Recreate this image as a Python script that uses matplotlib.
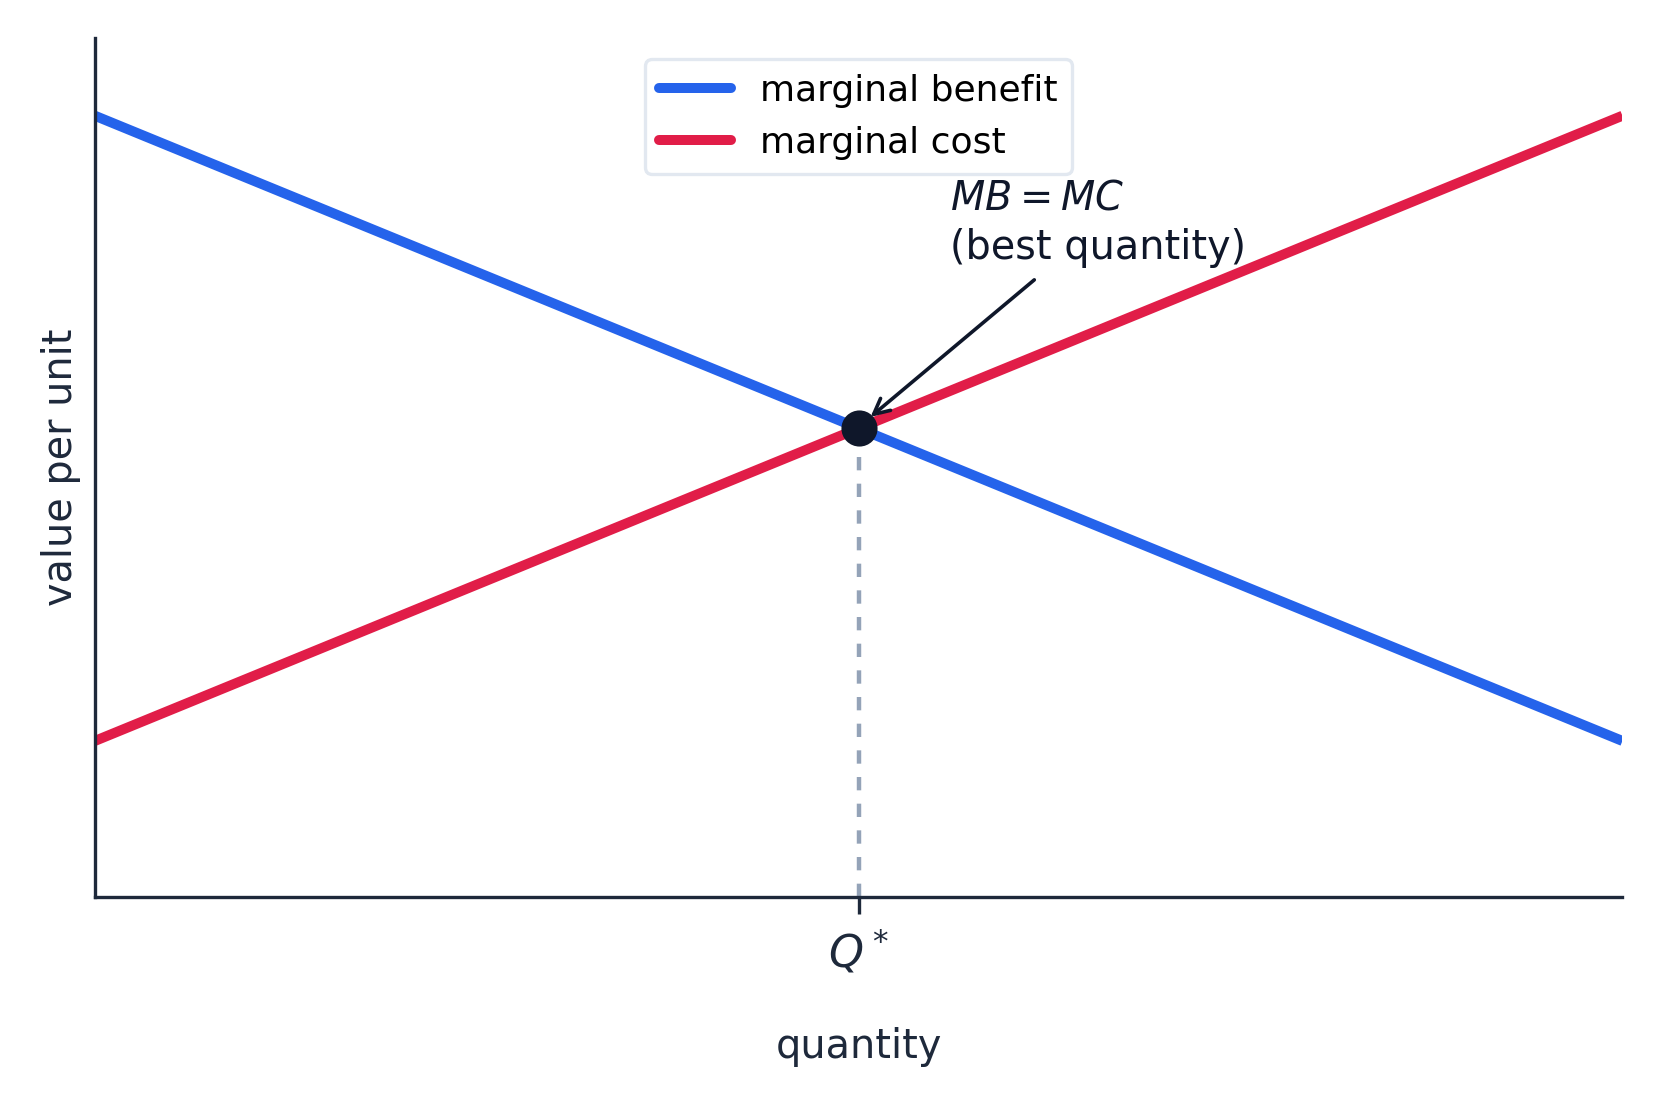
import numpy as np
import matplotlib.pyplot as plt

# quantity axis and the two curves
quantity = [0, 10]
marginal_benefit = [10, 2]
marginal_cost = [2, 10]
q_star = 5
v_star = 6
x_limits = (0, 10)
y_limits = (0, 11)

blue = "#2563eb"
red = "#e11d48"
dark = "#1e293b"
ink = "#0f172a"

fig = plt.figure(figsize=(8.32, 5.525), dpi=200)
ax = fig.add_axes([0.057, 0.188, 0.918, 0.778])

ax.plot(quantity, marginal_benefit, color=blue, lw=3.6, label="marginal benefit", solid_capstyle="butt")
ax.plot(quantity, marginal_cost, color=red, lw=3.6, label="marginal cost", solid_capstyle="butt")

ax.plot([q_star, q_star], [0, v_star], color="#94a3b8", lw=1.6, ls=(0, (3, 3)), zorder=1)
ax.plot(q_star, v_star, "o", color=ink, markersize=12, zorder=5)

ax.text(5.6, 8.05, "$MB = MC$\n(best quantity)", fontsize=14.3, color=ink, ha="left", va="bottom",
        linespacing=1.3)
ax.annotate("", xy=(q_star + 0.05, v_star + 0.1), xytext=(6.15, 7.9),
            arrowprops=dict(arrowstyle="->", color=ink, lw=1.3, shrinkA=0, shrinkB=2, mutation_scale=14))

ax.set_xlim(*x_limits)
ax.set_ylim(*y_limits)
ax.set_xticks([q_star])
ax.set_xticklabels(["$Q^*$"], fontsize=16, color=dark)
ax.set_yticks([])
ax.tick_params(axis="x", length=6, width=1.2, color=dark, pad=5)

for side in ["top", "right"]:
    ax.spines[side].set_visible(False)
for side in ["left", "bottom"]:
    ax.spines[side].set_color(dark)
    ax.spines[side].set_linewidth(1.2)

ax.set_xlabel("quantity", fontsize=14.3, color=dark, labelpad=18)
ax.set_ylabel("value per unit", fontsize=14.3, color=dark, labelpad=5)

leg = ax.legend(loc="upper center", fontsize=13, frameon=True, borderaxespad=0.6,
                handlelength=2.0, edgecolor="#e2e8f0", fancybox=True, framealpha=1)
leg.get_frame().set_linewidth(1.2)
for line in leg.get_lines():
    line.set_linewidth(3.6)
    line.set_solid_capstyle("round")

fig.savefig("out.png", dpi=200, facecolor="white")
